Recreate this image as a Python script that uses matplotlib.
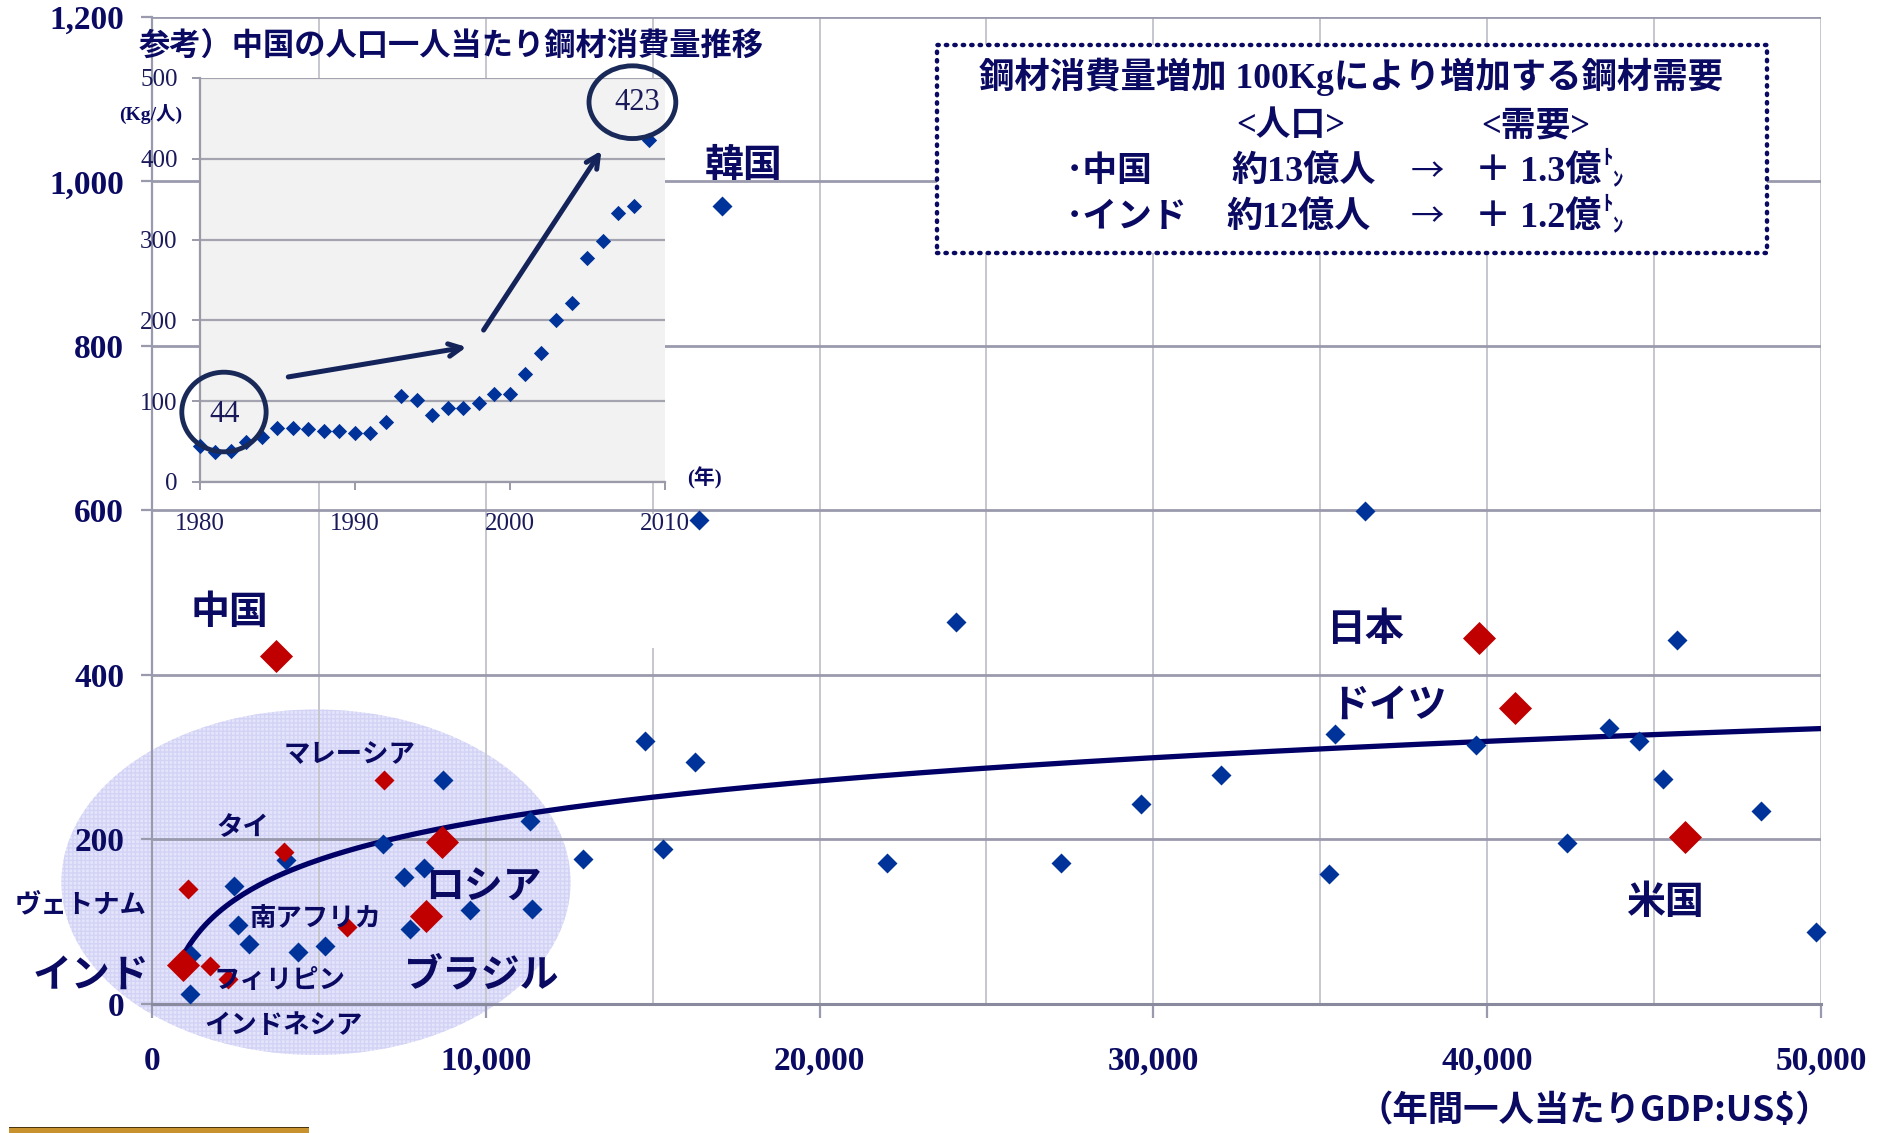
import matplotlib
matplotlib.use("Agg")
import matplotlib.pyplot as plt
import numpy as np
from matplotlib.patches import Ellipse, Rectangle
from matplotlib.ticker import MultipleLocator

NAVY = "#0a0a62"
BLUE = "#003399"
RED = "#c00000"
JP = ["Noto Sans CJK JP", "DejaVu Sans"]
SERIF = ["Liberation Serif", "Noto Sans CJK JP", "DejaVu Sans"]
DIAMOND = [(0, 1), (1, 0), (0, -1), (-1, 0)]

# per-capita GDP (US$) vs per-capita steel consumption (kg), other countries
gdp_blue = [16380, 17066, 36333, 24101, 45676, 14757, 16272, 35431, 43657, 44559,
            39652, 32039, 45279, 29622, 48203, 42394, 22010, 27240, 35250, 15298,
            12917, 49863, 11310, 8717, 6925, 11390, 9519, 8155, 7553, 7727,
            4011, 2447, 2580, 2901, 4385, 5174, 1176, 1136]
steel_blue = [588, 970, 599, 465, 443, 320, 294, 328, 335, 320,
              315, 278, 274, 243, 234, 196, 171, 171, 158, 189,
              176, 88, 222, 272, 195, 115, 114, 165, 154, 91,
              175, 143, 96, 73, 63, 70, 59, 12]

# highlighted large economies
big_names = ["中国", "日本", "ドイツ", "米国", "ロシア", "ブラジル", "インド"]
big_gdp = [3716, 39760, 40843, 45930, 8690, 8222, 936]
big_steel = [423, 445, 360, 203, 197, 107, 47]

# highlighted emerging economies
small_names = ["マレーシア", "タイ", "ヴェトナム", "南アフリカ", "インドネシア", "フィリピン"]
small_gdp = [6952, 3944, 1070, 5842, 1738, 2273]
small_steel = [272, 185, 140, 93, 46, 30]

# logarithmic trend line: steel = a * ln(gdp) + b
trend_a, trend_b = 69.3, -415.0
trend_range = (1000, 50000)

# China steel consumption per capita by year (kg)
years = np.arange(1980, 2010)
china_steel = [44, 37, 38, 49, 56, 67, 67, 65, 63, 63, 60, 60, 74, 107, 101,
               83, 92, 92, 98, 109, 109, 134, 160, 200, 221, 277, 298, 333, 341, 423]

x_ticks = [0, 10000, 20000, 30000, 40000, 50000]
x_labels = ["0", "10,000", "20,000", "30,000", "40,000", "50,000"]
y_ticks = [0, 200, 400, 600, 800, 1000, 1200]
y_labels = ["0", "200", "400", "600", "800", "1,000", "1,200"]

fig = plt.figure(figsize=(18.88, 11.33), dpi=100)
ax = fig.add_axes([0.0805, 0.1139, 0.8840, 0.8711])

ax.set_xlim(0, 50000)
ax.set_ylim(0, 1200)
ax.set_axisbelow(True)
ax.xaxis.set_minor_locator(MultipleLocator(5000))
ax.set_xticks(x_ticks)
ax.set_xticklabels(x_labels)
ax.set_yticks(y_ticks)
ax.set_yticklabels(y_labels)
for lab in ax.get_xticklabels() + ax.get_yticklabels():
    lab.set_family(SERIF)
    lab.set_weight("bold")
    lab.set_size(24)
    lab.set_color(NAVY)

ax.grid(True, axis="x", which="both", color="#c6c6ce", lw=1.4)
ax.grid(True, axis="y", which="major", color="#9a9aae", lw=2.0)
ax.tick_params(axis="x", which="major", length=10, width=1.6, color="#9a9aae", pad=20)
ax.tick_params(axis="x", which="minor", length=0)
ax.tick_params(axis="y", length=8, width=1.6, color="#9a9aae", pad=12)
for s in ("top", "right"):
    ax.spines[s].set_visible(False)
ax.spines["left"].set_color("#9a9aae")
ax.spines["left"].set_linewidth(1.6)
ax.spines["bottom"].set_color("#8a8a9e")
ax.spines["bottom"].set_linewidth(2.2)

# shaded region around the emerging economies
ax.add_patch(Ellipse((4913, 148), 15254, 420, facecolor="#e4e4fb", edgecolor="none",
                     zorder=0.2, clip_on=False))
ax.add_patch(Ellipse((4913, 148), 15254, 420, facecolor="none", edgecolor="#d3d3f5",
                     hatch="++++", lw=0, zorder=0.3, clip_on=False))
# gap in the 15,000 grid line below the inset
ax.add_patch(Rectangle((14600, 433), 800, 163, facecolor="white", edgecolor="none", zorder=0.6))

# trend line
tx = np.linspace(trend_range[0], trend_range[1], 400)
ax.plot(tx, trend_a * np.log(tx) + trend_b, color="#000066", lw=3.8, zorder=3,
        solid_capstyle="butt")

ax.plot(gdp_blue, steel_blue, ls="none", marker=DIAMOND, ms=14.4, color=BLUE,
        mec="none", zorder=4, clip_on=False)
ax.plot(small_gdp, small_steel, ls="none", marker=DIAMOND, ms=14.4, color=RED,
        mec="none", zorder=4, clip_on=False)
ax.plot(big_gdp, big_steel, ls="none", marker=DIAMOND, ms=23.8, color=RED,
        mec="none", zorder=5, clip_on=False)

# country labels
big_label_pos = [(2309, 476), (36333, 455), (37055, 363), (45317, 123),
                 (9922, 142), (9886, 35), (-1840, 35)]
for name, (lx, ly) in zip(big_names, big_label_pos):
    ax.text(lx, ly, name, family=JP, weight="bold", size=28, color=NAVY,
            ha="center", va="center", zorder=6)
ax.text(17715, 1020, "韓国", family=JP, weight="bold", size=28, color=NAVY,
        ha="center", va="center", zorder=6)

small_label_pos = [(5917, 303), (2706, 214), (-2129, 120), (4907, 104),
                   (3933, -26), (3824, 29)]
for name, (lx, ly) in zip(small_names, small_label_pos):
    ax.text(lx, ly, name, family=JP, weight="bold", size=19, color=NAVY,
            ha="center", va="center", zorder=6)

# info box
ax.add_patch(Rectangle((0.4704, 0.761), 0.4971, 0.211, transform=ax.transAxes,
                       facecolor="white", edgecolor=NAVY, lw=3.2, ls=(0, (0.3, 1.6)),
                       capstyle="round", zorder=7))
box_kw = dict(transform=ax.transAxes, family=SERIF, weight="bold", color=NAVY, zorder=8)
ax.text(0.7186, 0.939, "鋼材消費量増加 100Kgにより増加する鋼材需要", size=25.5,
        ha="center", va="center", **box_kw)
ax.text(0.6825, 0.889, "<人口>", size=25, ha="center", va="center", **box_kw)
ax.text(0.829, 0.889, "<需要>", size=25, ha="center", va="center", **box_kw)
rows = [("･中国", "約13億人", "＋ 1.3億", 0.8427, 0.6465),
        ("･インド", "約12億人", "＋ 1.2億", 0.7963, 0.6436)]
for country, pop, demand, ry, px in rows:
    ax.text(0.5476, ry, country, size=25, ha="left", va="center", **box_kw)
    ax.text(px, ry, pop, size=26, ha="left", va="center", **box_kw)
    ax.text(0.764, ry, "→", size=24, ha="center", va="center",
            **{**box_kw, "family": JP, "weight": "normal"})
    t = ax.text(0.793, ry, demand, size=26, ha="left", va="center", **box_kw)
    ax.annotate("ﾄ", xy=(1, 0.5), xycoords=t, xytext=(0, 3), textcoords="offset points",
                ha="left", va="bottom", size=15, family=JP, weight="bold", color=NAVY,
                zorder=8)
    ax.annotate("ﾝ", xy=(1, 0.5), xycoords=t, xytext=(8, -13), textcoords="offset points",
                ha="left", va="bottom", size=15, family=JP, weight="bold", color=NAVY,
                zorder=8)

# inset: China per-capita consumption trend
ins = fig.add_axes([0.1059, 0.5746, 0.2463, 0.3566])
ins.set_facecolor("#f2f2f2")
ins.set_xlim(1980, 2010)
ins.set_ylim(0, 500)
ins.set_xticks([1980, 1990, 2000, 2010])
ins.set_yticks([0, 100, 200, 300, 400, 500])
ins.grid(True, axis="y", color="#a4a4b0", lw=1.6)
ins.set_axisbelow(True)
for s in ("top", "right"):
    ins.spines[s].set_visible(False)
for s in ("left", "bottom"):
    ins.spines[s].set_color("#9a9aa8")
    ins.spines[s].set_linewidth(1.6)
ins.tick_params(axis="x", length=6, width=1.4, color="#9a9aa8", pad=16)
ins.tick_params(axis="y", length=6, width=1.4, color="#9a9aa8", pad=10)
for lab in ins.get_xticklabels() + ins.get_yticklabels():
    lab.set_family(SERIF)
    lab.set_size(18)
    lab.set_color("#1a1a5a")

ins.plot(years, china_steel, ls="none", marker=DIAMOND, ms=11, color=BLUE, mec="none",
         clip_on=False, zorder=4)

ring = "#1a2a58"
ins.add_patch(Ellipse((1981.55, 86.6), 5.44, 98.5, facecolor="none", edgecolor=ring,
                      lw=3.5, clip_on=False, zorder=5))
ins.add_patch(Ellipse((2007.9, 470), 5.6, 90, facecolor="none", edgecolor=ring,
                      lw=3.5, clip_on=False, zorder=5))
ins.text(1981.6, 84, str(china_steel[0]), family=SERIF, size=22, color="#1a1a5a",
         ha="center", va="center", zorder=6)
ins.text(2008.2, 470, str(china_steel[-1]), family=SERIF, size=22, color="#1a1a5a",
         ha="center", va="center", zorder=6, clip_on=False)

arrow_kw = dict(arrowstyle="->,head_length=0.9,head_width=0.45", color="#14245a", lw=3.6,
                shrinkA=0, shrinkB=0)
ins.annotate("", xy=(1997.2, 167), xytext=(1985.7, 130), arrowprops=arrow_kw,
             annotation_clip=False)
ins.annotate("", xy=(2005.9, 410), xytext=(1998.3, 188), arrowprops=arrow_kw,
             annotation_clip=False)

fig.text(0.239, 0.959, "参考）中国の人口一人当たり鋼材消費量推移", family=JP, weight="bold",
         size=22.5, color=NAVY, ha="center", va="center")
fig.text(0.0796, 0.899, "(Kg/人)", family=SERIF, weight="bold", size=14, color=NAVY,
         ha="center", va="center")
fig.text(0.373, 0.578, "(年)", family=SERIF, weight="bold", size=15, color=NAVY,
         ha="center", va="center")

# x-axis caption
fig.text(0.8445, 0.0203, "（年間一人当たりGDP:US$）", family=JP, weight="bold", size=25.5,
         color=NAVY, ha="center", va="center")

# gold strip at bottom left
fig.patches.append(Rectangle((9 / 1888, 0), 300 / 1888, 5 / 1133, transform=fig.transFigure,
                             facecolor="#c8922e", edgecolor="none"))
fig.patches.append(Rectangle((9 / 1888, 5 / 1133), 300 / 1888, 1.2 / 1133,
                             transform=fig.transFigure, facecolor="#4a3510", edgecolor="none"))

fig.savefig("out.png", dpi=100)
